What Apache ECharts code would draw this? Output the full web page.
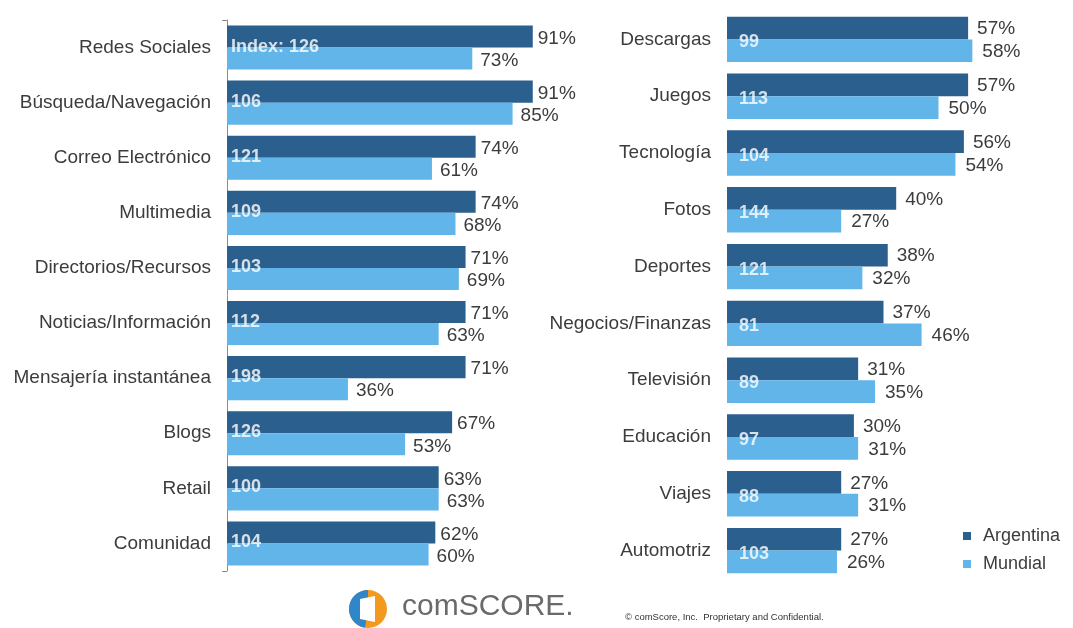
<!DOCTYPE html>
<html>
<head>
<meta charset="utf-8">
<script src="https://cdn.jsdelivr.net/npm/echarts@6/dist/echarts.min.js"></script>
<style>
html,body{margin:0;padding:0;background:#fff;}
#chart{width:1073px;height:628px;}
</style>
</head>
<body>
<div id="chart"></div>
<script>
var leftCats = ['Redes Sociales','Búsqueda/Navegación','Correo Electrónico','Multimedia','Directorios/Recursos','Noticias/Información','Mensajería instantánea','Blogs','Retail','Comunidad'];
var leftArg = [91,91,74,74,71,71,71,67,63,62];
var leftMun = [73,85,61,68,69,63,36,53,63,60];
var leftIdx = [126,106,121,109,103,112,198,126,100,104];

var rightCats = ['Descargas','Juegos','Tecnología','Fotos','Deportes','Negocios/Finanzas','Televisión','Educación','Viajes','Automotriz'];
var rightArg = [57,57,56,40,38,37,31,30,27,27];
var rightMun = [58,50,54,27,32,46,35,31,31,26];
var rightIdx = [99,113,104,144,121,81,89,97,88,103];

var seriesNames = ['Argentina','Mundial'];
var colDark = '#2b5f8e';
var colLight = '#62b5e9';
var font = "'Liberation Sans', Arial, sans-serif";
var txt = '#3c3c3c';

function idxData(cats, idx){
  return cats.map(function(c,i){ return [0, c, idx[i]]; });
}

var chart = echarts.init(document.getElementById('chart'), null, {renderer:'canvas'});

function catAxis(gi, cats, showLine){
  return {
    type:'category', gridIndex:gi, data:cats, inverse:true,
    axisLine:{show:showLine, lineStyle:{color:'#8c8c8c', width:1}},
    axisTick:{show:showLine, length:5, interval:function(i){return i===0;}, lineStyle:{color:'#8c8c8c'}},
    axisLabel:{fontSize:19, color:txt, fontFamily:font, margin:16}
  };
}
function valAxis(gi, max){
  return {type:'value', gridIndex:gi, min:0, max:max, show:false, splitLine:{show:false}};
}
function barSeries(name, gi, data, color, dist, off){
  return {
    name:name, type:'bar', xAxisIndex:gi, yAxisIndex:gi, data:data,
    barGap:'0%', barCategoryGap:'20%',
    itemStyle:{color:color},
    label:{show:true, position:'right', distance:dist, offset:[0,off], formatter:'{c}%',
      fontSize:19, color:txt, fontFamily:font},
    emphasis:{disabled:true}, animation:false
  };
}
function idxSeries(gi, data, dist, off, firstPrefix){
  return {
    type:'scatter', xAxisIndex:gi, yAxisIndex:gi, data:data, symbolSize:0, z:10,
    label:{show:true, position:'right', distance:dist, offset:[0,off],
      fontSize:18, fontWeight:'bold', color:'#ffffff', fontFamily:font,
      formatter:function(p){ return (firstPrefix && p.dataIndex===0 ? 'Index: ' : '') + p.value[2]; }},
    emphasis:{disabled:true}, animation:false, silent:true
  };
}

var option = {
  backgroundColor:'#ffffff',
  animation:false,
  textStyle:{fontFamily:font},
  grid:[
    {left:227, top:20, width:336, height:551},
    {left:727, top:11, width:253.8, height:568}
  ],
  xAxis:[valAxis(0,100), valAxis(1,60)],
  yAxis:[catAxis(0,leftCats,true), catAxis(1,rightCats,false)],
  legend:{
    data:seriesNames, orient:'vertical', left:958, top:522, icon:'rect',
    itemWidth:8, itemHeight:8, itemGap:10,
    textStyle:{fontSize:18, color:txt, fontFamily:font, lineHeight:18, padding:[0,0,0,7]}
  },
  series:[
    barSeries(seriesNames[0],0,leftArg,colDark,5,2),
    barSeries(seriesNames[1],0,leftMun,colLight,8,2),
    idxSeries(0, idxData(leftCats,leftIdx), 4, -1, true),
    barSeries(seriesNames[0],1,rightArg,colDark,9,1),
    barSeries(seriesNames[1],1,rightMun,colLight,10,1),
    idxSeries(1, idxData(rightCats,rightIdx), 12, 3, false)
  ],
  graphic:[
    {type:'group', left:349, top:590, children:[
      {type:'circle', shape:{cx:20,cy:19,r:19}, style:{fill:'#f39a1e'}},
      {type:'sector', shape:{cx:20,cy:19,r:19,r0:0,startAngle:Math.PI*0.55,endAngle:Math.PI*1.5}, style:{fill:'#2f86c9'}},
      {type:'polygon', shape:{points:[[12,9],[27,6],[27,32],[12,29]]}, style:{fill:'#ffffff'}}
    ]},
    {type:'text', left:402, top:592, style:{text:'comSCORE.', fontSize:30, fill:'#6a6a6a', fontFamily:font}},
    {type:'text', left:625, top:612, style:{text:'© comScore, Inc.  Proprietary and Confidential.', fontSize:9.5, fill:'#333333', fontFamily:font}}
  ]
};
chart.setOption(option);
</script>
</body>
</html>
